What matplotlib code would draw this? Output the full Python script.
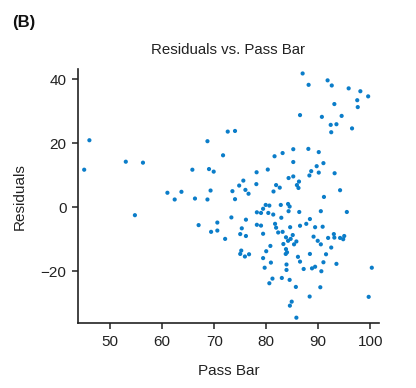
import matplotlib
matplotlib.use("Agg")
import matplotlib.pyplot as plt

pass_bar = [
    46.0, 45.0, 53.0, 56.3, 68.7, 72.6, 71.7, 65.8, 69.0, 69.9, 61.0, 63.7, 62.4, 66.3, 68.7, 69.3,
    54.75, 67.0, 70.6, 69.4, 70.6, 72.1, 73.3,
    87.0, 88.15, 91.8, 92.6, 95.85, 98.1, 99.6, 97.5, 97.6, 93.1, 86.5, 90.7, 94.5, 92.4, 93.5, 92.5, 96.5,
    74.0, 81.6, 83.15, 85.2, 88.1, 90.1, 85.2, 91.0, 89.7, 88.65, 90.1, 88.3, 93.15, 80.3, 78.15, 85.2,
    84.3, 86.3, 85.9, 86.2, 75.6, 74.8, 78.1, 81.9, 82.6, 81.4, 76.0, 76.6, 73.5, 74.0, 91.1, 94.2,
    79.9, 80.6, 82.8, 84.2, 84.5, 79.4, 78.2, 79.0, 80.4, 81.35, 84.3, 86.35, 90.5, 95.5,
    76.1, 82.9, 88.4, 78.2, 79.0, 81.7, 81.9, 84.6, 86.5, 87.7, 89.4, 90.85, 75.3,
    75.0, 76.1, 79.4, 82.3, 83.15, 83.8, 85.1, 84.7, 84.2, 85.8, 85.35, 83.3, 89.1, 89.9, 90.5, 91.9,
    93.0, 93.1, 94.2, 94.8, 95.0, 80.8, 92.5,
    75.2, 75.0, 75.9, 76.7, 80.0, 83.8, 84.0, 83.75, 88.4, 91.5,
    79.4, 80.9, 86.1, 86.5, 91.0, 93.5, 79.7, 83.9, 83.9, 87.2, 88.8, 89.4, 90.6, 100.3,
    81.2, 80.6, 83.0, 84.5, 85.7, 90.4, 88.35, 99.7, 84.9, 84.55, 85.8,
]
residuals = [
    20.9, 11.7, 14.2, 13.9, 20.6, 23.6, 16.2, 11.7, 11.9, 11.1, 4.5, 4.8, 2.4, 2.7, 2.4, 5.2,
    -2.5, -5.6, -4.8, -7.7, -7.3, -9.9, -3.2,
    41.75, 38.2, 39.6, 38.0, 37.1, 36.2, 34.6, 33.4, 31.25, 32.2, 28.75, 28.2, 28.5, 25.7, 25.9, 23.4, 24.6,
    23.8, 15.9, 16.9, 18.1, 18.2, 17.2, 14.1, 13.75, 12.8, 11.25, 10.8, 9.9, 10.6, 11.75, 10.9, 9.6,
    9.1, 8.0, 6.9, 6.0, 8.3, 6.75, 7.2, 6.9, 6.1, 4.9, 5.4, 4.2, 5.0, 2.5, 3.2, 5.3,
    0.7, 0.5, 0.7, 1.0, 0.2, -0.5, -1.6, -1.8, -1.8, -2.3, -1.25, -1.5, -1.25, -1.5,
    -3.9, -3.3, -3.7, -5.5, -5.75, -5.2, -6.4, -6.25, -5.8, -5.2, -6.25, -6.1, -6.6,
    -8.4, -9.0, -8.3, -7.9, -7.7, -9.4, -8.7, -9.9, -10.5, -10.7, -11.6, -11.5, -9.2, -10.5, -11.6, -9.6,
    -8.4, -9.5, -9.6, -10.0, -9.0, -12.1, -12.6,
    -13.55, -14.6, -15.4, -14.7, -13.75, -13.1, -14.1, -14.6, -14.6, -14.7,
    -15.9, -17.3, -15.5, -17.0, -17.2, -17.7, -18.9, -17.9, -19.6, -19.3, -19.1, -18.6, -20.0, -18.9,
    -22.3, -23.75, -22.1, -22.7, -24.9, -25.0, -27.9, -28.0, -29.5, -30.75, -34.5,
]

x_ticks = [50, 60, 70, 80, 90, 100]
y_ticks = [-20, 0, 20, 40]

plt.rcParams['font.family'] = ['Liberation Sans', 'DejaVu Sans']

fig = plt.figure(figsize=(4.16, 3.88), dpi=100)
ax = fig.add_axes([0.188, 0.1668, 0.722, 0.655])

ax.scatter(pass_bar, residuals, s=9, color='#0b7dc9', edgecolors='none', zorder=3)

ax.set_xlim(43.85, 101.6)
ax.set_ylim(-36.25, 43.1)
ax.set_xticks(x_ticks)
ax.set_yticks(y_ticks)
ax.set_yticklabels(['\u221220', '0', '20', '40'])

for side in ['top', 'right']:
    ax.spines[side].set_visible(False)
for side in ['left', 'bottom']:
    ax.spines[side].set_linewidth(1.2)
    ax.spines[side].set_color('#222222')

ax.tick_params(axis='both', direction='out', length=4.5, width=1.1, colors='#222222',
               labelsize=11, pad=4)

ax.set_title('Residuals vs. Pass Bar', fontsize=10.8, pad=11, color='#222222')
ax.set_xlabel('Pass Bar', fontsize=11, labelpad=11, color='#222222')
ax.set_ylabel('Residuals', fontsize=11, labelpad=10, color='#222222')

fig.text(0.029, 0.93, '(B)', fontsize=12, fontweight='bold', color='#111111')

fig.savefig('out.png', dpi=100)
